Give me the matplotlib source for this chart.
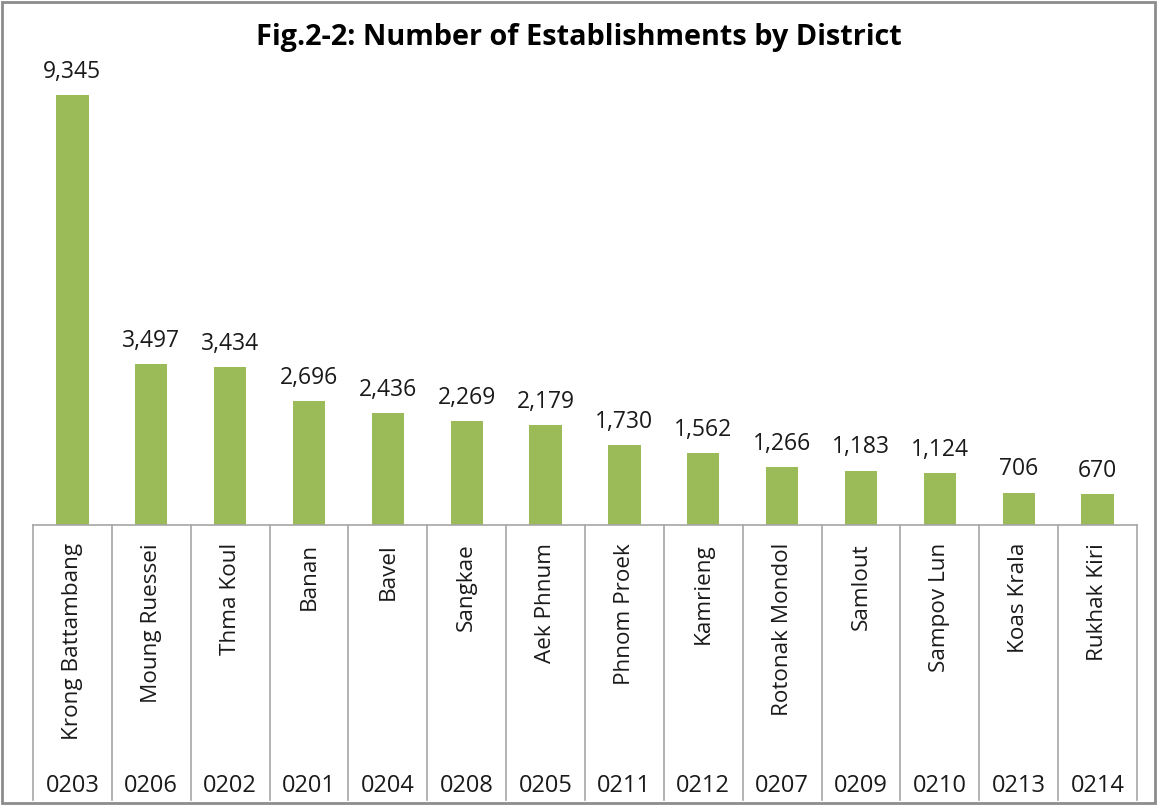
import matplotlib
matplotlib.use("Agg")
import matplotlib.pyplot as plt
from matplotlib.patches import Rectangle

# Data
districts = ["Krong Battambang", "Moung Ruessei", "Thma Koul", "Banan", "Bavel",
             "Sangkae", "Aek Phnum", "Phnom Proek", "Kamrieng", "Rotonak Mondol",
             "Samlout", "Sampov Lun", "Koas Krala", "Rukhak Kiri"]
codes = ["0203", "0206", "0202", "0201", "0204", "0208", "0205",
         "0211", "0212", "0207", "0209", "0210", "0213", "0214"]
establishments = [9345, 3497, 3434, 2696, 2436, 2269, 2179,
                  1730, 1562, 1266, 1183, 1124, 706, 670]

plt.rcParams['font.family'] = ['Open Sans', 'DejaVu Sans']

W, H = 1157, 805
fig = plt.figure(figsize=(W / 100, H / 100), dpi=100)

# axes placed in pixel terms: baseline at y=525, top of scale at y=65
base_px, top_px = 525, 65
left_px, right_px = 33, 1137
ax = fig.add_axes([left_px / W, 1 - base_px / H,
                   (right_px - left_px) / W, (base_px - top_px) / H])

x = list(range(len(districts)))
ax.bar(x, establishments, width=0.41, color="#9BBB59", zorder=2)
ax.set_xlim(-0.5, len(districts) - 0.5)
ax.set_ylim(0, 10000)

for s in ["top", "left", "right"]:
    ax.spines[s].set_visible(False)
ax.spines["bottom"].set_color("#A6A6A6")
ax.spines["bottom"].set_linewidth(1.2)
ax.set_xticks([])
ax.set_yticks([])

for xi, v in zip(x, establishments):
    ax.annotate(f"{v:,}", (xi, v), xytext=(0, 8), textcoords="offset points",
                ha="center", va="bottom", fontsize=16.5, color="#1a1a1a")

# category table under the axis
ax_h = base_px - top_px
def ay(px):
    return -(px - base_px) / ax_h

tr = ax.get_xaxis_transform()
for b in [i - 0.5 for i in range(len(districts) + 1)]:
    ax.plot([b, b], [0, ay(800)], transform=tr, color="#A6A6A6", lw=1.2,
            clip_on=False)

for xi, name, code in zip(x, districts, codes):
    ax.text(xi, ay(543), name, transform=tr, rotation=90, ha="center", va="top",
            fontsize=16.2, color="#1a1a1a")
    ax.text(xi, ay(786), code, transform=tr, ha="center", va="center",
            fontsize=17, color="#1a1a1a")

fig.text(0.5, 1 - 37 / H, "Fig.2-2: Number of Establishments by District",
         ha="center", va="center", fontsize=20.8, fontweight="bold")

fig.patches.append(Rectangle((2 / W, 2 / H), 1 - 4 / W, 1 - 4 / H,
                             transform=fig.transFigure, fill=False,
                             ec="#8C8C8C", lw=2))

fig.savefig("out.png", dpi=100)
